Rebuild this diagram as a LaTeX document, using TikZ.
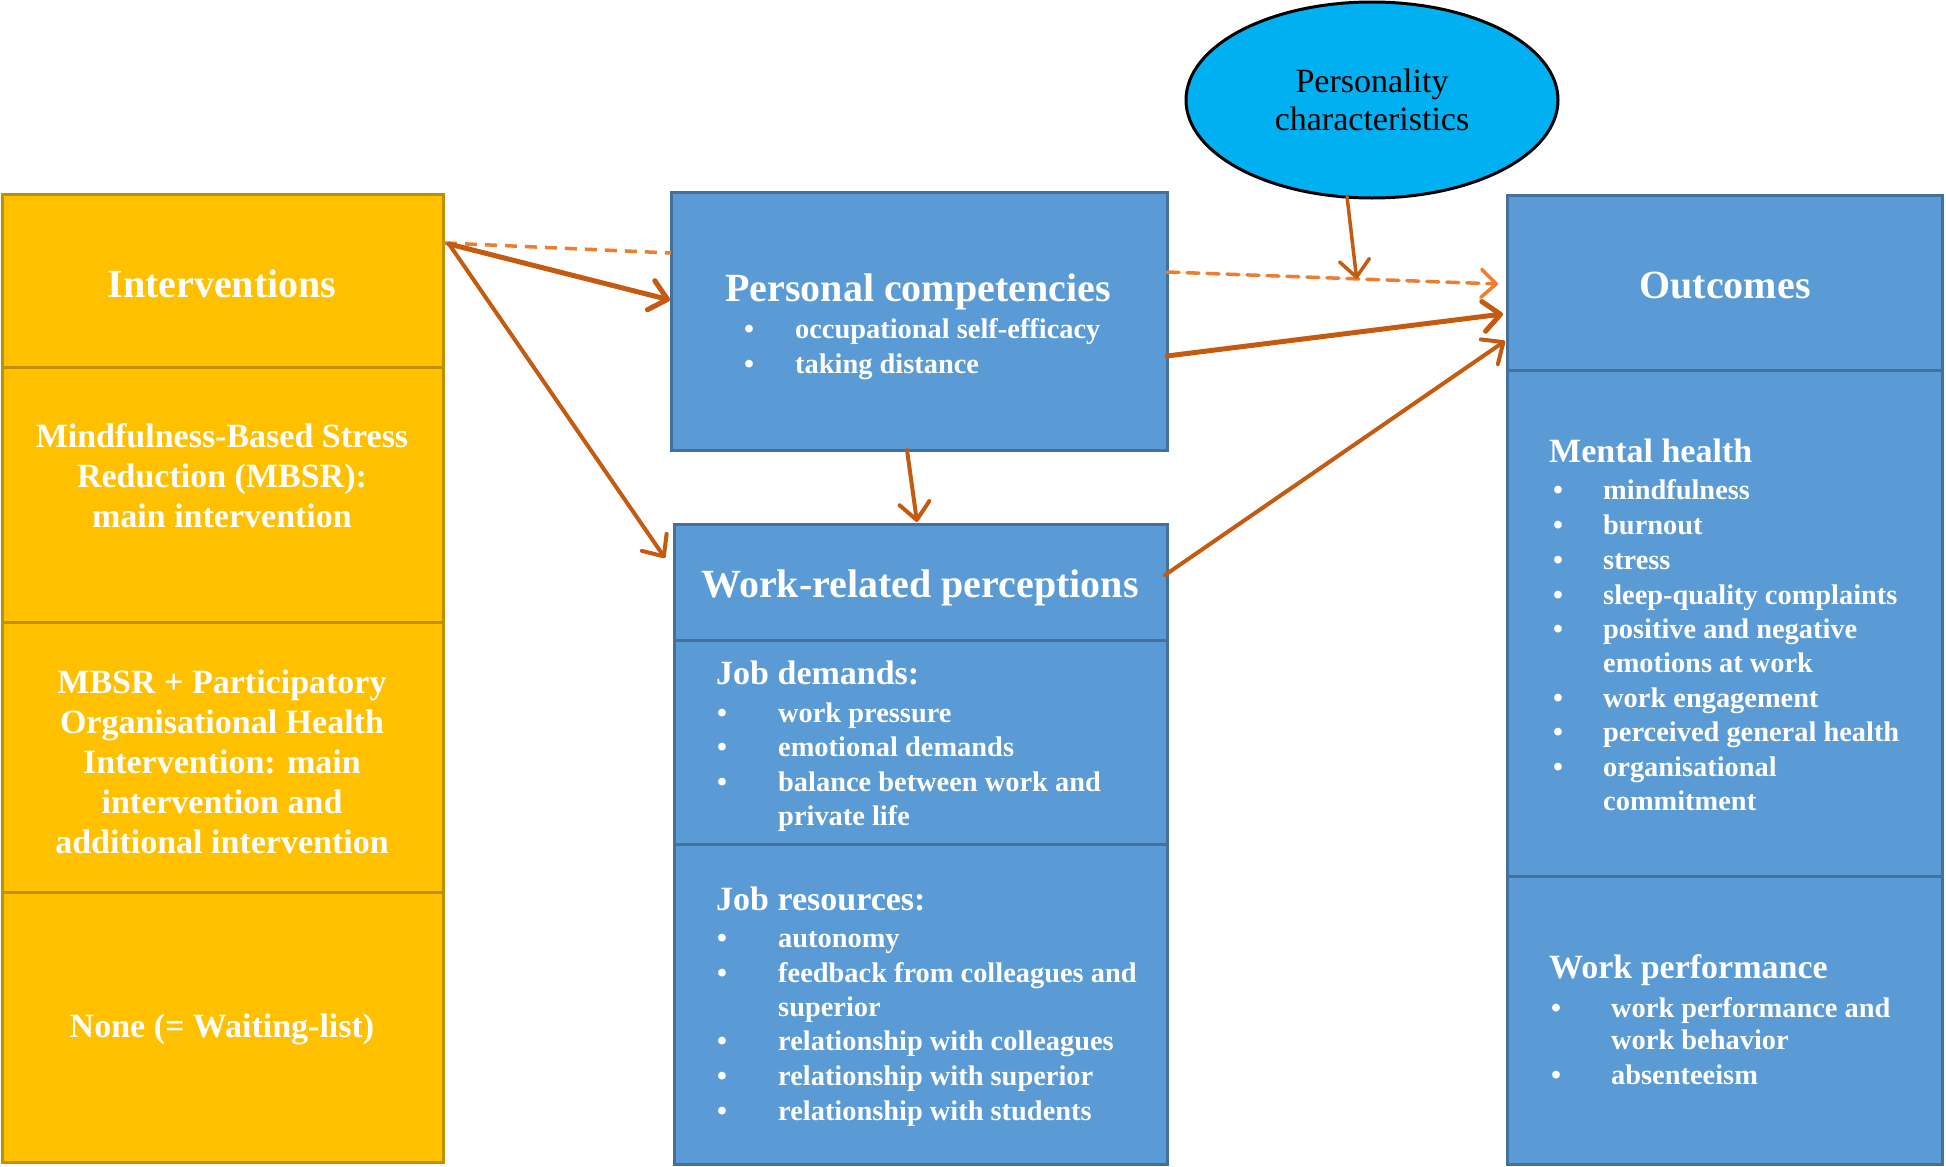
\documentclass[tikz,border=0pt]{standalone}
\usepackage{fontspec}
\setmainfont{Liberation Serif}
\usetikzlibrary{arrows.meta,shapes.geometric,calc}
\definecolor{ygold}{HTML}{FFC000}
\definecolor{ygoldb}{HTML}{BF9000}
\definecolor{bblue}{HTML}{5B9BD5}
\definecolor{bblueb}{HTML}{41719C}
\definecolor{ecyan}{HTML}{00B0F0}
\definecolor{arrd}{HTML}{C55A11}
\definecolor{arrl}{HTML}{ED7D31}
\newcommand{\fsz}[2]{\fontsize{#1}{#2}\selectfont}
\newcommand{\blt}[1]{\makebox[#1][l]{•}}
\begin{document}
\begin{tikzpicture}[x=1pt,y=-1pt,
  ybox/.style={rectangle,draw=ygoldb,fill=ygold,line width=3pt,anchor=north west,inner sep=0pt,outer sep=0pt},
  bbox/.style={rectangle,draw=bblueb,fill=bblue,line width=3pt,anchor=north west,inner sep=0pt,outer sep=0pt},
  ttl/.style={text=white,font=\bfseries\fsz{40}{46},inner sep=0pt},
  ytxt/.style={text=white,font=\bfseries\fsz{34}{40},align=center,inner sep=0pt},
  subh/.style={text=white,font=\bfseries\fsz{34}{40},anchor=mid west,inner sep=0pt,yshift=-7pt},
  li/.style={text=white,font=\bfseries\fsz{28.4}{34},anchor=mid west,inner sep=0pt,yshift=-6pt},
  conn/.style={draw=arrd,line width=4pt,line cap=round,line join=round,-{Straight Barb[length=17pt,width=30pt,line cap=round,line join=round]}},
  thick conn/.style={conn,line width=5pt},
  dconn/.style={draw=arrl,line width=3.5pt,dash pattern=on 12pt off 8pt},
]
\useasboundingbox (0,0) rectangle (1946,1167);

% left column
\node[ybox,minimum width=441pt,minimum height=173pt] (int) at (2,194) {};
\node[ybox,minimum width=441pt,minimum height=255pt] (mbsr) at (2,367) {};
\node[ybox,minimum width=441pt,minimum height=270pt] (pohi) at (2,622) {};
\node[ybox,minimum width=441pt,minimum height=270pt] (none) at (2,892) {};
\node[ttl] (tint) at (222,284) {Interventions};
\node[ytxt] (tmbsr) at (222,476) {Mindfulness-Based Stress\\Reduction (MBSR):\\main intervention};
\node[ytxt] (tpohi) at (222,762) {MBSR + Participatory\\Organisational Health\\Intervention: main\\intervention and\\additional intervention};
\node[ytxt] (tnone) at (222,1029) {None (= Waiting-list)};

% personal competencies
\node[bbox,minimum width=496pt,minimum height=258pt] (pc) at (671,192) {};
\node[ttl] (tpc) at (918,292) {Personal competencies};
\node[li] (pc1) at (744,330) {\blt{51pt}occupational self-efficacy};
\node[li] (pc2) at (744,365) {\blt{51pt}taking distance};

% work-related perceptions
\node[bbox,minimum width=493pt,minimum height=116pt] (wrp) at (674,524) {};
\node[bbox,minimum width=493pt,minimum height=204pt] (jd) at (674,640) {};
\node[bbox,minimum width=493pt,minimum height=320pt] (jr) at (674,844) {};
\node[ttl] (twrp) at (920,588) {Work-related perceptions};
\node[subh] (jdh) at (716,675) {Job demands:};
\node[li] (jd1) at (717,714) {\blt{61pt}work pressure};
\node[li] (jd2) at (717,748) {\blt{61pt}emotional demands};
\node[li] (jd3) at (717,783) {\blt{61pt}balance between work and};
\node[li] (jd4) at (778,817) {private life};
\node[subh] (jrh) at (716,901) {Job resources:};
\node[li] (jr1) at (717,939) {\blt{61pt}autonomy};
\node[li] (jr2) at (717,974) {\blt{61pt}feedback from colleagues and};
\node[li] (jr3) at (778,1008) {superior};
\node[li] (jr4) at (717,1042) {\blt{61pt}relationship with colleagues};
\node[li] (jr5) at (717,1077) {\blt{61pt}relationship with superior};
\node[li] (jr6) at (717,1112) {\blt{61pt}relationship with students};

% outcomes
\node[bbox,minimum width=435pt,minimum height=175pt] (out) at (1507,195) {};
\node[bbox,minimum width=435pt,minimum height=506pt] (mh) at (1507,370) {};
\node[bbox,minimum width=435pt,minimum height=288pt] (wp) at (1507,876) {};
\node[ttl] (tout) at (1725,285) {Outcomes};
\node[subh] (mhh) at (1549,453) {Mental health};
\node[li] (mh1) at (1553,491) {\blt{50pt}mindfulness};
\node[li] (mh2) at (1553,526) {\blt{50pt}burnout};
\node[li] (mh3) at (1553,561) {\blt{50pt}stress};
\node[li] (mh4) at (1553,596) {\blt{50pt}sleep-quality complaints};
\node[li] (mh5) at (1553,630) {\blt{50pt}positive and negative};
\node[li] (mh6) at (1603,664) {emotions at work};
\node[li] (mh7) at (1553,699) {\blt{50pt}work engagement};
\node[li] (mh8) at (1553,733) {\blt{50pt}perceived general health};
\node[li] (mh9) at (1553,768) {\blt{50pt}organisational};
\node[li] (mh10) at (1603,802) {commitment};
\node[subh] (wph) at (1549,969) {Work performance};
\node[li] (wp1) at (1551,1009) {\blt{60pt}work performance and};
\node[li] (wp2) at (1611,1041) {work behavior};
\node[li] (wp3) at (1551,1076) {\blt{60pt}absenteeism};

% personality ellipse
\node[ellipse,draw=black,fill=ecyan,line width=3pt,minimum width=372pt,minimum height=196pt,inner sep=0pt,align=center,font=\fsz{34}{38}] (ell) at (1372,100) {Personality\\characteristics};

% connectors
\coordinate (src) at ($(int.north east)+(6,50)$);
\draw[dconn] ($(int.north east)+(2,49)$) -- ($(pc.north west)+(0,61)$);
\draw[thick conn] (src) -- ($(pc.north west)+(-1,108)$);
\draw[conn] (src) -- ($(wrp.north west)+(-9,34)$);
\draw[conn] ($(pc.south west)+(236,0)$) -- ($(wrp.north west)+(243,-2)$);
\draw[dconn,-{Straight Barb[length=15pt,width=28pt,line cap=round,line join=round]},line cap=round]
  ($(pc.north east)+(0,80)$) -- coordinate[pos=0.573] (mod) ($(out.north west)+(-9,89)$);
\draw[conn,line width=3.5pt] ($(ell.south)+(-25,-3)$) -- (mod);
\draw[thick conn] ($(pc.north east)+(0,164)$) -- ($(out.north west)+(-4,119)$);
\draw[conn] ($(wrp.north east)+(-2,51)$) -- ($(out.north west)+(-2,146)$);
\end{tikzpicture}
\end{document}
